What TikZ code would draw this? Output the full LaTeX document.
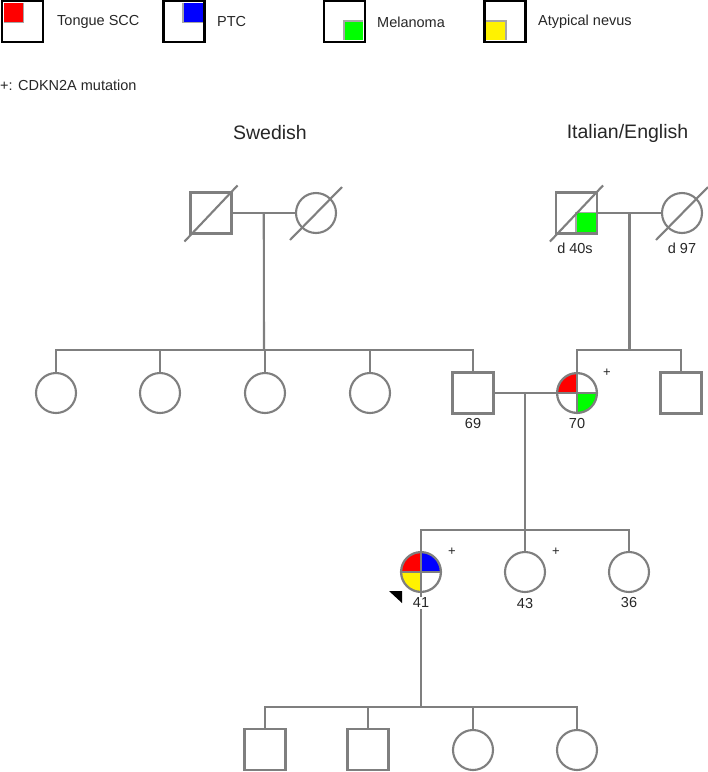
\documentclass[tikz,border=0pt]{standalone}
\usepackage{fontspec}
\setmainfont{Liberation Sans}
\usetikzlibrary{calc,positioning}
\definecolor{pedgray}{HTML}{7F7F7F}
\definecolor{txtgray}{HTML}{262626}

\begin{document}
\begin{tikzpicture}[x=1pt, y=-1pt]

		\tikzset{
			pedline/.style={draw=pedgray, line width=2.1pt},
			male/.style={rectangle, draw=pedgray, line width=2.1pt, minimum size=41pt, inner sep=0pt, fill=white},
			female/.style={circle, draw=pedgray, line width=2.1pt, minimum size=40pt, inner sep=0pt, fill=white},
			legendbox/.style={rectangle, draw=black, line width=2.4pt, minimum size=41pt, inner sep=0pt, fill=white},
			legendtext/.style={font=\fontsize{14.5}{16}\selectfont, text=txtgray, inner sep=0pt, anchor=west},
			title/.style={font=\fontsize{19.5}{22}\selectfont, text=txtgray},
			age/.style={font=\fontsize{14.5}{16}\selectfont, text=txtgray, inner sep=1pt},
			carrier/.style={font=\fontsize{13}{14}\selectfont, text=txtgray, inner sep=0pt},
			% #1 corner, #2 colour, #3 inward shift
			legendmark/.style n args={3}{path picture={
				\fill[gray!70] ([shift={#3}]path picture bounding box.#1) rectangle ([shift={#3}]path picture bounding box.center);
				\fill[#2] ([shift={#3}]path picture bounding box.#1) rectangle (path picture bounding box.center);}},
			quads/.style n args={4}{path picture={
				\fill[#1] (path picture bounding box.center) rectangle (path picture bounding box.north west);
				\fill[#2] (path picture bounding box.center) rectangle (path picture bounding box.north east);
				\fill[#3] (path picture bounding box.center) rectangle (path picture bounding box.south west);
				\fill[#4] (path picture bounding box.center) rectangle (path picture bounding box.south east);
				\draw[pedgray, line width=2.1pt] (path picture bounding box.north) -- (path picture bounding box.south)
					(path picture bounding box.west) -- (path picture bounding box.east);
				\draw[pedgray, line width=2.1pt] (path picture bounding box.center) circle[radius=20];}},
		}

		\useasboundingbox (0,0) rectangle (708,772);

		% legend
		\node[legendbox, legendmark={north west}{red}{(1.9,1.9)}] (kSCC) at (22.5,21.5) {};
		\node[legendtext] (tSCC) at (57,22) {Tongue SCC};
		\node[legendbox, legendmark={north east}{blue}{(-1.9,1.9)}] (kPTC) at (184,21.5) {};
		\node[legendtext] (tPTC) at (217,22) {PTC};
		\node[legendbox, legendmark={south east}{green}{(-1.9,-1.9)}] (kMel) at (344.5,21.5) {};
		\node[legendtext] (tMel) at (377,22) {Melanoma};
		\node[legendbox, legendmark={south west}{yellow}{(1.9,-1.9)}] (kNev) at (505,21.5) {};
		\node[legendtext] (tNev) at (538,22) {Atypical nevus};
		\node[legendtext] (tCdk) at (0,85) {+: CDKN2A mutation};

		\node[title] (tSwe) at (270,133) {Swedish};
		\node[title] (tIta) at (627.5,133) {Italian/English};

		% generation I
		\node[male] (gfS) at (211,213) {};
		\node[female] (gmS) at (316,213) {};
		\node[male, legendmark={south east}{green}{(-1.2,-1.2)}] (gfI) at (576.5,213) {};
		\node[female] (gmI) at (682,213) {};

		\foreach \n in {gfS,gfI}
			\draw[pedline] ([shift={(-5,7)}]\n.south west) -- ([shift={(5,-6)}]\n.north east);
		\foreach \n in {gmS,gmI}
			\draw[pedline] ([shift={(-26,27)}]\n.center) -- ([shift={(26,-26)}]\n.center);

		\node[age] (dgfI) at (575,248) {d 40s};
		\node[age] (dgmI) at (682,248) {d 97};

		% generation II
		\foreach \n/\x in {aS1/56, aS2/160, aS3/265, aS4/370}
			\node[female] (\n) at (\x,393) {};
		\node[male] (f69) at (473,393) {};
		\node[female, quads={red}{white}{white}{green}] (m70) at (577,393) {};
		\node[male] (uI) at (681,393) {};

		\draw[pedline] (gfS) -- (gmS);
		\coordinate (dS) at ($(gfS.east)!0.5!(gmS.west)$);
		\coordinate (sibS) at (264,350);
		\draw[pedline] (dS) -- (sibS);
		\draw[pedline] (aS1.north) |- (sibS) -| (f69.north);
		\foreach \n in {aS2,aS3,aS4}
			\draw[pedline] (\n.north) -- (\n.north |- sibS);

		\draw[pedline] (gfI) -- (gmI);
		\coordinate (dI) at ($(gfI.east)!0.5!(gmI.west)$);
		\coordinate (sibI) at ($(dI)+(0,137)$);
		\draw[pedline] (dI) -- (sibI);
		\draw[pedline] (m70.north) |- (sibI) -| (uI.north);

		% generation III
		\node[female, quads={red}{blue}{yellow}{white}] (p41) at (421,572) {};
		\node[female] (s43) at (525,572) {};
		\node[female] (s36) at (629,572) {};

		\draw[pedline] (f69) -- (m70);
		\coordinate (dII) at ($(f69.east)!0.5!(m70.west)$);
		\coordinate (sibII) at ($(dII)+(0,137)$);
		\draw[pedline] (dII) -- (sibII);
		\draw[pedline] (p41.north) |- (sibII) -| (s36.north);
		\draw[pedline] (s43.north) -- (s43.north |- sibII);

		% generation IV
		\node[male] (b1) at (265,749.5) {};
		\node[male] (b2) at (368,749.5) {};
		\node[female] (g1) at (473,750) {};
		\node[female] (g2) at (577,750) {};

		\coordinate (sibIII) at (p41 |- 0,707);
		\draw[pedline] (p41.south) -- (sibIII);
		\draw[pedline] (b1.north) |- (sibIII) -| (g2.north);
		\foreach \n in {b2,g1}
			\draw[pedline] (\n.north) -- (\n.north |- sibIII);

		% ages and carriers
		\node[age] (a69) at (473,424) {69};
		\node[age] (a70) at (577,424) {70};
		\node[age, fill=white] (a41) at (421,603) {41};
		\node[age] (a43) at (525,603) {43};
		\node[age] (a36) at (629,602) {36};

		\node[carrier] (c70) at (607,373) {+};
		\node[carrier] (c41) at (452,552) {+};
		\node[carrier] (c43) at (556,552) {+};

		% proband
		\fill[black] (389,591) -- (402,591) -- (402,603) -- cycle;
\end{tikzpicture}
\end{document}
